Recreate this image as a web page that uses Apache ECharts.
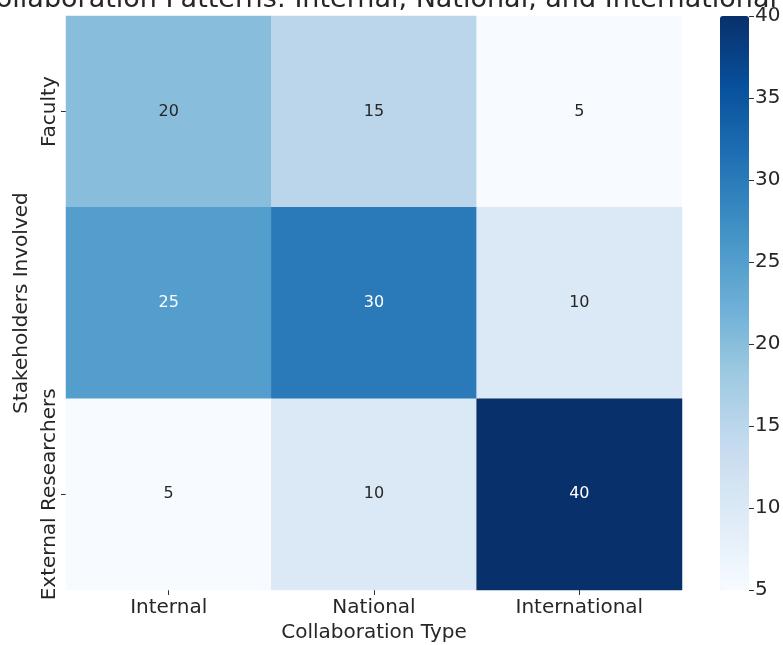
<!DOCTYPE html>
<html>
<head>
<meta charset="utf-8">
<script src="https://cdn.jsdelivr.net/npm/echarts@6/dist/echarts.min.js"></script>
<style>html,body{margin:0;padding:0;background:#fff}#c{width:783px;height:645px}</style>
</head>
<body>
<div id="c"></div>
<script>
var titleText = "Collaboration Patterns: Internal, National, and International";
var collabTypes = ["Internal", "National", "International"];
var stakeholders = ["Faculty", "Students", "External Researchers"];
var facultyValues = [20, 15, 5];
var studentValues = [25, 30, 10];
var externalValues = [5, 10, 40];
var colorbarMin = 5, colorbarMax = 40, colorbarStep = 5;
var blues = ['#f7fbff','#deebf7','#c6dbef','#9ecae1','#6baed6','#4292c6','#2171b5','#08519c','#08306b'];

var rows = [facultyValues, studentValues, externalValues];
var data = [];
rows.forEach(function (r, yi) {
  r.forEach(function (v, xi) {
    data.push({ value: [xi, yi, v], label: { color: v >= 22 ? '#ffffff' : '#262626' } });
  });
});

var font = "DejaVu Sans";
var chart = echarts.init(document.getElementById('c'));
chart.setOption({
  backgroundColor: '#fff',
  animation: false,
  title: { text: titleText, left: 372, textAlign: 'center', top: -19,
    textStyle: { fontFamily: font, fontSize: 27, fontWeight: 'normal', color: '#262626' } },
  grid: [
    { left: 66, right: 101, top: 16, bottom: 55, outerBoundsMode: 'none', containLabel: false },
    { left: 720, width: 29, top: 16, height: 574, outerBoundsMode: 'none', containLabel: false }
  ],
  xAxis: [
    { type: 'category', data: collabTypes, gridIndex: 0,
      name: 'Collaboration Type', nameLocation: 'middle', nameGap: 33,
      nameTextStyle: { fontFamily: font, fontSize: 20, color: '#262626' },
      axisLine: { show: false }, splitLine: { show: false },
      axisTick: { show: true, alignWithLabel: true, length: 5, lineStyle: { color: '#333' } },
      axisLabel: { fontFamily: font, fontSize: 20, color: '#262626', margin: 8 } },
    { type: 'category', data: [''], gridIndex: 1, show: false }
  ],
  yAxis: [
    { type: 'category', data: stakeholders, gridIndex: 0, inverse: true,
      name: 'Stakeholders Involved', nameLocation: 'middle', nameGap: 32,
      nameTextStyle: { fontFamily: font, fontSize: 20, color: '#262626' },
      axisLine: { show: false }, splitLine: { show: false },
      axisTick: { show: true, alignWithLabel: true, length: 5, lineStyle: { color: '#333' } },
      axisLabel: { fontFamily: font, fontSize: 20, color: '#262626', rotate: 90, margin: 6 } },
    { type: 'value', gridIndex: 1, min: colorbarMin, max: colorbarMax, interval: colorbarStep,
      position: 'right',
      axisLine: { show: false }, splitLine: { show: false },
      axisTick: { show: true, length: 5, lineStyle: { color: '#333' } },
      axisLabel: { fontFamily: font, fontSize: 20, color: '#262626', margin: 6 } }
  ],
  visualMap: {
    type: 'continuous', seriesIndex: 0, min: colorbarMin, max: colorbarMax,
    left: 720, top: 16, itemWidth: 29, itemHeight: 574, padding: 0,
    text: null, calculable: false, hoverLink: false,
    inRange: { color: blues }
  },
  series: [
    { type: 'heatmap', xAxisIndex: 0, yAxisIndex: 0, data: data,
      label: { show: true, fontFamily: font, fontSize: 16,
        formatter: function (p) { return p.value[2]; } },
      itemStyle: { borderWidth: 0 } },
    { type: 'scatter', xAxisIndex: 1, yAxisIndex: 1, data: [], silent: true }
  ]
});
</script>
</body>
</html>
